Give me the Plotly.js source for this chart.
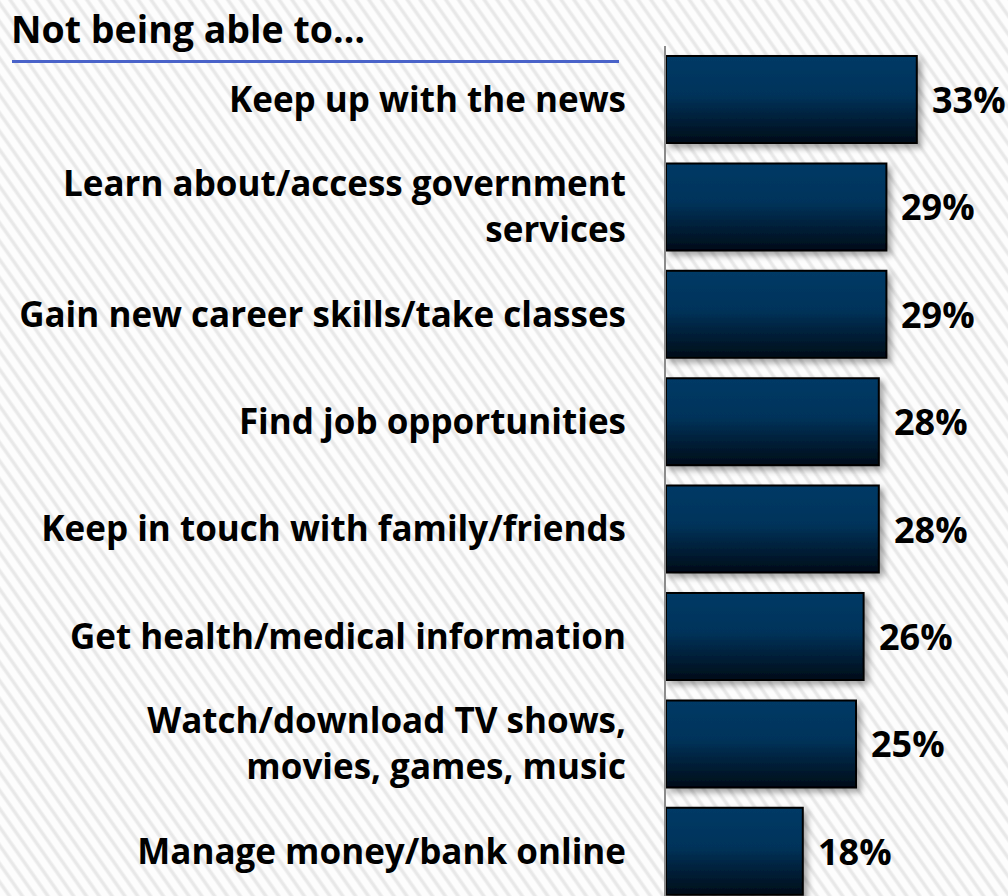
<!DOCTYPE html>
<html>
<head>
<meta charset="utf-8">
<script src="https://cdn.plot.ly/plotly-3.0.1.min.js"></script>
<style>
  html, body { margin: 0; padding: 0; }
  body {
    width: 1008px; height: 896px; overflow: hidden;
    background-color: #fdfdfd;
    background-image: repeating-linear-gradient(55deg, #fdfdfd 0px, #fdfdfd 5px, #e8e8e8 7px, #e8e8e8 8.5px, #fdfdfd 10.5px);
  }
  #chart { width: 1008px; height: 896px; }
</style>
</head>
<body>
<div id="chart"></div>
<script>
const titleText = "Not being able to…";
const categories = [
  "Keep up with the news",
  "Learn about/access government<br>services",
  "Gain new career skills/take classes",
  "Find job opportunities",
  "Keep in touch with family/friends",
  "Get health/medical information",
  "Watch/download TV shows,<br>movies, games, music",
  "Manage money/bank online"
];
const values = [33, 29, 29, 28, 28, 26, 25, 18];
const valueLabels = values.map(v => v + "%");

const FONT = "Open Sans, DejaVu Sans, sans-serif";

const trace = {
  type: "bar",
  orientation: "h",
  x: values,
  y: categories,
  width: 0.81,
  marker: { color: "#002a4c", line: { color: "#000000", width: 2 } },
  hoverinfo: "none"
};

const annotations = values.map((v, i) => ({
  x: v, y: categories[i], xref: "x", yref: "y",
  text: valueLabels[i], showarrow: false,
  xanchor: "left", yanchor: "middle", xshift: 13,
  font: { family: FONT, size: 36, color: "#000", weight: "bold" }
}));

const layout = {
  width: 1008, height: 896,
  margin: { l: 666, r: 0, t: 46, b: 0, pad: 0 },
  paper_bgcolor: "rgba(0,0,0,0)",
  plot_bgcolor: "rgba(0,0,0,0)",
  showlegend: false,
  title: {
    text: titleText, xref: "container", yref: "container",
    x: 0.011, xanchor: "left", y: 0.967, yanchor: "middle",
    font: { family: FONT, size: 37.5, color: "#000", weight: "bold" }
  },
  xaxis: {
    range: [0, 45], showgrid: false, zeroline: false, showline: false,
    showticklabels: false, ticks: "", fixedrange: true
  },
  yaxis: {
    type: "category", range: [7.416, -0.498],
    showgrid: false, zeroline: false,
    showline: true, linecolor: "#8c8c8c", linewidth: 2,
    ticks: "", ticklabelstandoff: 31,
    tickfont: { family: FONT, size: 35, color: "#000", weight: "bold" }
  },
  shapes: [{
    type: "line", xref: "paper", yref: "paper",
    x0: (12 - 666) / 342, x1: (619 - 666) / 342,
    y0: 1 - (61.5 - 46) / 850, y1: 1 - (61.5 - 46) / 850,
    line: { color: "#4a63c9", width: 3 }
  }],
  annotations: annotations
};

Plotly.newPlot("chart", [trace], layout, { staticPlot: true, displayModeBar: false }).then(gd => {
  const svg = gd.querySelector("svg.main-svg");
  const ns = "http://www.w3.org/2000/svg";
  let defs = svg.querySelector("defs");
  if (!defs) { defs = document.createElementNS(ns, "defs"); svg.insertBefore(defs, svg.firstChild); }
  defs.insertAdjacentHTML("beforeend",
    '<linearGradient id="barGrad" x1="0" y1="0" x2="0" y2="1">' +
      '<stop offset="0" stop-color="#003a66"/>' +
      '<stop offset="0.45" stop-color="#00335a"/>' +
      '<stop offset="1" stop-color="#000c18"/>' +
    '</linearGradient>' +
    '<filter id="barShadow" x="-10%" y="-10%" width="130%" height="140%">' +
      '<feDropShadow dx="4" dy="4" stdDeviation="3" flood-color="#000" flood-opacity="0.35"/>' +
    '</filter>');
  gd.querySelectorAll(".barlayer .point path").forEach(p => {
    p.style.fill = "url(#barGrad)";
    p.setAttribute("filter", "url(#barShadow)");
  });
});
</script>
</body>
</html>
